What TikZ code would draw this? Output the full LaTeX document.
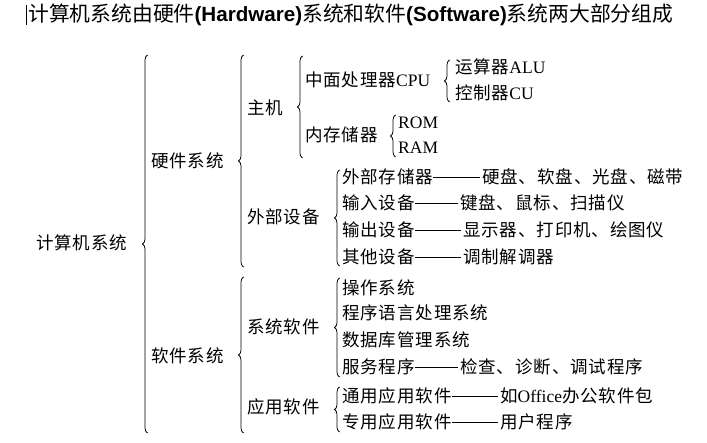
\documentclass[tikz,border=0pt]{standalone}
\usepackage{fontspec}
\setmainfont{Noto Sans CJK SC}
\newfontfamily\zh{Noto Sans CJK SC}[LetterSpace=5]
\newfontfamily\lat{Liberation Serif}
\newfontfamily\titlelat{Liberation Sans}
\usetikzlibrary{decorations.pathreplacing}

\begin{document}
\begin{tikzpicture}[x=1pt, y=-1pt,
        item/.style={anchor=west, inner sep=0pt, text height=15pt, text depth=2pt, font=\zh\fontsize{17.5}{20}\selectfont},
        lbrace/.style={decorate, decoration={brace, amplitude=5pt}, line width=0.75pt},
        link/.style={line width=0.7pt, shorten >=2pt}]
        \useasboundingbox (0,0) rectangle (707,443);

        % title
        \draw[line width=0.6pt] (26.5,5) -- (26.5,25);
        \node[anchor=west, inner sep=0pt, text height=17pt, text depth=3pt, font=\fontsize{20.8}{24}\selectfont] (title) at (28,15)
            {计算机系统由硬件{\titlelat\bfseries\fontsize{20.6}{24}\selectfont(Hardware)}系统和软件{\titlelat\bfseries\fontsize{20.6}{24}\selectfont(Software)}系统两大部分组成};

        \node[item] (root) at (36,243) {计算机系统};
        \node[item] (hw) at (151,161) {硬件系统};
        \node[item] (sw) at (151,356) {软件系统};

        \node[item] (host) at (247,108) {主机};
        \node[item] (periph) at (247,217) {外部设备};
        \node[item] (syssw) at (247,327) {系统软件};
        \node[item] (appsw) at (247,407) {应用软件};

        % host
        \node[item] (cpu) at (305,80) {中面处理器{\lat CPU}};
        \node[item] (mem) at (305,135) {内存储器};
        \node[item] (alu) at (455,67) {运算器{\lat ALU}};
        \node[item] (cu) at (455,93) {控制器{\lat CU}};
        \node[item] (rom) at (398,122) {\lat ROM};
        \node[item] (ram) at (398,147) {\lat RAM};

        % peripherals
        \node[item] (extstore) at (342,177) {外部存储器};
        \node[item] (input) at (342,203) {输入设备};
        \node[item] (output) at (342,230) {输出设备};
        \node[item] (other) at (342,257) {其他设备};
        \node[item] (hdd) at (482,177) {硬盘、软盘、光盘、磁带};
        \node[item] (kbd) at (460,203) {键盘、鼠标、扫描仪};
        \node[item] (disp) at (463,230) {显示器、打印机、绘图仪};
        \node[item] (modem) at (463,257) {调制解调器};

        % software
        \node[item] (os) at (342,288) {操作系统};
        \node[item] (lang) at (342,313) {程序语言处理系统};
        \node[item] (db) at (342,340) {数据库管理系统};
        \node[item] (svc) at (342,367) {服务程序};
        \node[item] (check) at (460,367) {检查、诊断、调试程序};
        \node[item] (general) at (342,396) {通用应用软件};
        \node[item] (special) at (342,422) {专用应用软件};
        \node[item] (office) at (500,396) {如{\lat Office}办公软件包};
        \node[item] (userprog) at (500,422) {用户程序};

        \draw[link] (extstore.east) -- (hdd.west);
        \draw[link] (input.east) -- (kbd.west);
        \draw[link] (output.east) -- (disp.west);
        \draw[link] (other.east) -- (modem.west);
        \draw[link] (svc.east) -- (check.west);
        \draw[link] (general.east) -- (office.west);
        \draw[link] (special.east) -- (userprog.west);

        % braces
        \draw[lbrace] (147.5,433) -- (147.5,55);
        \draw[lbrace] (243.5,267) -- (243.5,55);
        \draw[lbrace] (243.5,433) -- (243.5,277);
        \draw[lbrace] (302.5,158) -- (302.5,56);
        \draw[lbrace] (449.5,102) -- (449.5,60);
        \draw[lbrace] (395.5,157) -- (395.5,115);
        \draw[lbrace] (339.5,266) -- (339.5,170);
        \draw[lbrace] (339.5,377) -- (339.5,278);
        \draw[lbrace] (339.5,432) -- (339.5,387);

        \end{tikzpicture}
\end{document}
